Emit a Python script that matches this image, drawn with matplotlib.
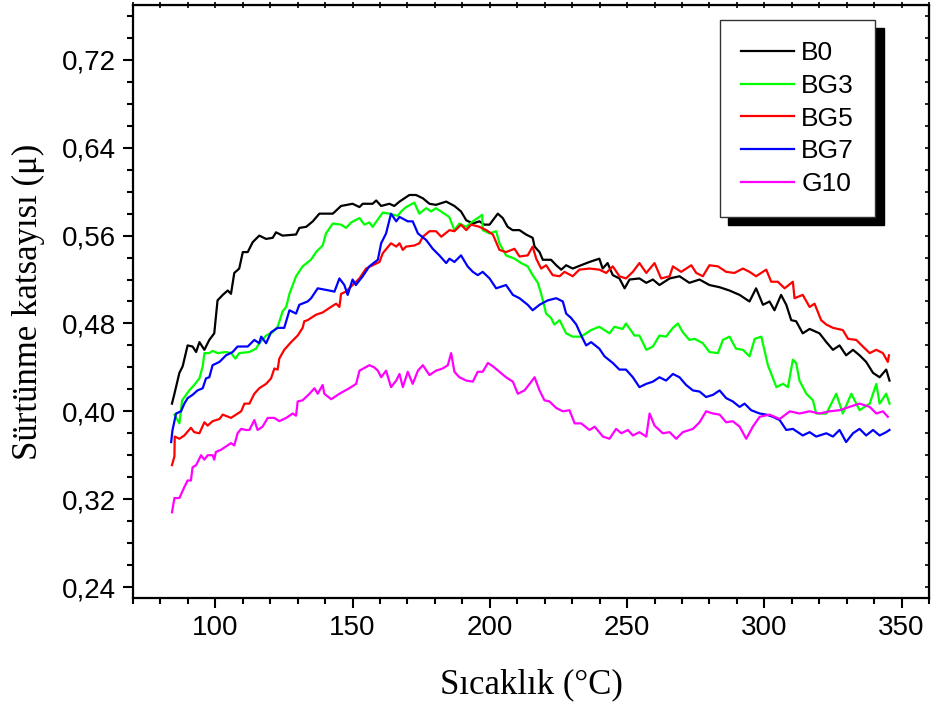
import matplotlib
matplotlib.use("Agg")
import matplotlib.pyplot as plt
import numpy as np
from matplotlib.ticker import MultipleLocator, FuncFormatter

# friction coefficient vs temperature
b0_x = [84.2, 85.1, 86.9, 88.1, 89.9, 91.7, 93.0, 94.2, 96.0, 97.8,
        99.6, 100.8, 102.7, 104.5, 105.7, 106.9, 108.7, 110.0, 111.8, 113.6,
        116.0, 118.5, 120.9, 122.1, 124.5, 129.4, 130.6, 133.1, 135.5, 137.9,
        142.8, 145.8, 150.0, 152.5, 153.7, 157.3, 158.6, 160.4, 163.4, 165.2,
        167.1, 170.7, 173.1, 175.6, 178.0, 180.4, 184.1, 187.1, 189.5, 191.4,
        193.8, 196.2, 198.0, 199.9, 202.9, 204.7, 206.5, 208.3, 210.8, 213.2,
        215.6, 216.3, 218.1, 219.3, 222.3, 224.2, 226.0, 227.8, 230.2, 233.2,
        236.3, 239.9, 241.1, 242.9, 244.8, 247.2, 249.1, 250.9, 254.5, 257.0,
        259.4, 261.8, 265.5, 269.1, 272.7, 276.4, 280.0, 283.7, 287.3, 291.0,
        294.6, 297.0, 299.5, 301.9, 303.7, 306.1, 308.0, 309.8, 311.6, 314.0,
        316.5, 320.1, 322.6, 325.0, 327.4, 329.8, 332.3, 334.7, 337.1, 339.6,
        342.0, 344.4, 345.6]
b0_y = [0.407, 0.416, 0.435, 0.441, 0.460, 0.459, 0.454, 0.463, 0.456, 0.465,
        0.471, 0.501, 0.506, 0.510, 0.507, 0.526, 0.530, 0.545, 0.545, 0.554,
        0.560, 0.557, 0.558, 0.563, 0.560, 0.561, 0.567, 0.568, 0.573, 0.580,
        0.580, 0.587, 0.589, 0.586, 0.589, 0.589, 0.592, 0.587, 0.589, 0.587,
        0.591, 0.597, 0.597, 0.594, 0.589, 0.588, 0.591, 0.587, 0.582, 0.574,
        0.571, 0.573, 0.570, 0.570, 0.580, 0.576, 0.568, 0.565, 0.565, 0.561,
        0.558, 0.550, 0.545, 0.538, 0.538, 0.533, 0.529, 0.533, 0.530, 0.533,
        0.536, 0.539, 0.530, 0.535, 0.524, 0.521, 0.512, 0.520, 0.521, 0.517,
        0.520, 0.515, 0.521, 0.523, 0.517, 0.520, 0.515, 0.513, 0.510, 0.506,
        0.500, 0.512, 0.497, 0.500, 0.492, 0.506, 0.497, 0.483, 0.482, 0.471,
        0.475, 0.471, 0.463, 0.456, 0.460, 0.451, 0.456, 0.451, 0.445, 0.435,
        0.431, 0.438, 0.428]

bg3_x = [85.1, 86.9, 87.9, 90.5, 92.3, 94.2, 95.4, 96.0, 97.8, 99.0,
         100.8, 103.9, 105.7, 107.3, 108.7, 112.4, 114.8, 116.0, 118.5, 120.9,
         122.7, 124.5, 125.8, 127.0, 129.4, 131.8, 134.8, 136.7, 139.1, 140.3,
         142.8, 145.8, 147.6, 149.5, 152.5, 154.3, 156.1, 157.3, 161.0, 163.4,
         166.4, 167.7, 169.5, 172.5, 174.3, 176.8, 178.6, 180.4, 183.4, 185.2,
         187.1, 188.9, 191.4, 193.8, 196.2, 197.2, 197.4, 199.9, 202.3, 203.5,
         205.9, 209.0, 211.4, 213.8, 215.6, 217.5, 218.7, 219.9, 220.5, 222.3,
         223.5, 225.4, 227.8, 230.2, 233.2, 236.9, 239.9, 243.6, 245.4, 248.4,
         249.6, 252.7, 254.5, 257.0, 259.4, 261.8, 264.2, 266.7, 268.5, 270.3,
         272.7, 274.6, 277.6, 280.0, 283.1, 284.9, 287.3, 289.7, 292.2, 294.6,
         296.5, 298.9, 301.3, 304.4, 306.8, 308.6, 310.4, 311.6, 312.8, 315.3,
         317.7, 318.9, 322.6, 326.2, 328.6, 331.7, 334.7, 338.4, 340.8, 342.0,
         344.4, 345.6]
bg3_y = [0.397, 0.389, 0.410, 0.419, 0.424, 0.430, 0.441, 0.453, 0.453, 0.455,
         0.453, 0.454, 0.453, 0.448, 0.453, 0.454, 0.457, 0.462, 0.469, 0.472,
         0.477, 0.491, 0.495, 0.507, 0.523, 0.532, 0.538, 0.545, 0.551, 0.562,
         0.571, 0.570, 0.567, 0.572, 0.576, 0.570, 0.572, 0.568, 0.581, 0.580,
         0.578, 0.582, 0.586, 0.590, 0.580, 0.585, 0.582, 0.585, 0.580, 0.577,
         0.565, 0.571, 0.568, 0.573, 0.577, 0.579, 0.565, 0.562, 0.564, 0.553,
         0.542, 0.539, 0.535, 0.532, 0.524, 0.517, 0.507, 0.495, 0.489, 0.485,
         0.479, 0.483, 0.471, 0.468, 0.468, 0.474, 0.477, 0.471, 0.477, 0.475,
         0.480, 0.469, 0.469, 0.456, 0.459, 0.469, 0.468, 0.476, 0.480, 0.472,
         0.465, 0.466, 0.462, 0.454, 0.453, 0.465, 0.468, 0.457, 0.456, 0.450,
         0.466, 0.468, 0.442, 0.422, 0.425, 0.422, 0.447, 0.444, 0.428, 0.416,
         0.410, 0.398, 0.398, 0.416, 0.398, 0.416, 0.401, 0.407, 0.425, 0.407,
         0.416, 0.407]

bg5_x = [84.2, 85.1, 85.2, 86.9, 88.7, 91.1, 92.3, 94.2, 96.0, 97.2,
         99.0, 101.5, 102.7, 105.7, 109.4, 110.6, 112.4, 114.2, 116.0, 118.5,
         120.3, 121.5, 122.7, 123.3, 125.1, 127.6, 130.0, 131.8, 132.4, 133.6,
         136.7, 139.1, 141.5, 144.0, 145.2, 145.8, 147.6, 150.0, 152.5, 154.9,
         157.3, 159.8, 161.0, 164.0, 165.9, 167.1, 168.3, 169.5, 172.5, 174.3,
         175.6, 178.0, 180.4, 182.3, 185.3, 187.1, 189.5, 191.4, 193.2, 196.2,
         198.7, 201.1, 203.5, 205.9, 209.0, 210.8, 213.8, 215.6, 216.9, 218.7,
         220.5, 222.9, 225.4, 227.2, 230.2, 232.6, 236.3, 239.9, 242.4, 244.8,
         247.2, 249.6, 252.1, 254.5, 257.0, 260.0, 262.4, 265.5, 266.7, 269.7,
         273.4, 275.2, 277.6, 280.0, 283.1, 286.1, 289.1, 292.2, 294.6, 297.0,
         300.7, 302.5, 304.9, 307.4, 310.4, 311.0, 314.0, 316.5, 318.3, 320.7,
         322.6, 325.0, 328.6, 330.5, 333.5, 335.9, 338.4, 340.8, 343.2, 345.0,
         345.4]
bg5_y = [0.351, 0.359, 0.377, 0.375, 0.378, 0.385, 0.381, 0.380, 0.390, 0.387,
         0.391, 0.393, 0.397, 0.394, 0.400, 0.407, 0.407, 0.416, 0.421, 0.425,
         0.430, 0.439, 0.438, 0.448, 0.456, 0.463, 0.469, 0.476, 0.482, 0.483,
         0.488, 0.490, 0.494, 0.498, 0.495, 0.507, 0.509, 0.515, 0.521, 0.530,
         0.533, 0.536, 0.544, 0.553, 0.550, 0.553, 0.547, 0.550, 0.551, 0.553,
         0.559, 0.564, 0.564, 0.559, 0.565, 0.564, 0.570, 0.565, 0.570, 0.568,
         0.565, 0.561, 0.547, 0.545, 0.548, 0.541, 0.542, 0.550, 0.539, 0.530,
         0.533, 0.524, 0.523, 0.527, 0.523, 0.529, 0.530, 0.529, 0.526, 0.532,
         0.523, 0.521, 0.527, 0.535, 0.526, 0.535, 0.521, 0.523, 0.532, 0.527,
         0.533, 0.526, 0.523, 0.533, 0.532, 0.527, 0.526, 0.530, 0.527, 0.523,
         0.529, 0.518, 0.518, 0.512, 0.518, 0.503, 0.506, 0.495, 0.498, 0.483,
         0.479, 0.476, 0.474, 0.466, 0.465, 0.459, 0.453, 0.456, 0.453, 0.445,
         0.451]

bg7_x = [83.9, 84.4, 85.7, 87.5, 88.7, 89.9, 91.7, 93.5, 95.4, 96.6,
         97.8, 99.0, 101.5, 103.9, 106.3, 108.1, 111.8, 114.2, 116.0, 116.7,
         118.5, 120.3, 122.7, 125.1, 127.0, 129.4, 130.6, 133.6, 134.9, 137.3,
         141.5, 143.4, 145.2, 147.0, 148.2, 150.0, 151.2, 153.7, 156.1, 159.2,
         160.4, 162.2, 164.0, 165.9, 167.1, 170.1, 171.9, 173.8, 176.8, 179.2,
         181.6, 184.1, 185.3, 187.1, 189.5, 191.9, 193.8, 195.6, 197.4, 199.9,
         202.3, 205.9, 208.4, 210.8, 213.8, 215.6, 218.1, 221.1, 224.2, 226.6,
         227.8, 229.6, 231.5, 233.3, 235.1, 236.9, 239.9, 241.8, 244.8, 247.2,
         249.6, 252.1, 254.5, 257.0, 259.4, 261.8, 264.2, 266.7, 269.1, 271.5,
         274.0, 276.4, 278.8, 281.3, 283.7, 286.1, 288.5, 291.0, 292.8, 295.2,
         298.3, 300.7, 303.1, 305.6, 308.0, 310.4, 314.0, 316.5, 318.9, 322.6,
         325.0, 327.4, 329.8, 332.3, 334.7, 337.1, 339.6, 342.0, 344.4, 345.6]
bg7_y = [0.372, 0.383, 0.398, 0.400, 0.407, 0.412, 0.415, 0.419, 0.421, 0.430,
         0.431, 0.442, 0.445, 0.451, 0.454, 0.459, 0.459, 0.465, 0.462, 0.468,
         0.462, 0.472, 0.476, 0.476, 0.492, 0.489, 0.497, 0.500, 0.503, 0.512,
         0.510, 0.509, 0.521, 0.515, 0.506, 0.520, 0.515, 0.523, 0.532, 0.538,
         0.553, 0.562, 0.580, 0.573, 0.577, 0.573, 0.573, 0.562, 0.556, 0.548,
         0.542, 0.535, 0.539, 0.536, 0.542, 0.532, 0.527, 0.524, 0.527, 0.521,
         0.512, 0.515, 0.506, 0.503, 0.497, 0.492, 0.497, 0.501, 0.503, 0.500,
         0.489, 0.485, 0.479, 0.469, 0.460, 0.463, 0.457, 0.450, 0.444, 0.438,
         0.438, 0.431, 0.422, 0.425, 0.427, 0.431, 0.428, 0.434, 0.431, 0.424,
         0.419, 0.418, 0.413, 0.415, 0.419, 0.412, 0.409, 0.404, 0.407, 0.401,
         0.398, 0.397, 0.395, 0.392, 0.383, 0.384, 0.378, 0.381, 0.377, 0.380,
         0.377, 0.383, 0.372, 0.380, 0.384, 0.378, 0.383, 0.378, 0.381, 0.383]

g10_x = [84.2, 85.1, 86.9, 88.7, 89.9, 91.1, 91.7, 93.0, 94.8, 96.0,
         97.2, 99.0, 99.6, 100.2, 102.1, 103.9, 105.7, 106.9, 108.1, 109.4,
         111.2, 112.4, 114.2, 115.4, 117.2, 119.1, 121.5, 123.3, 125.8, 128.2,
         129.4, 130.0, 131.8, 134.3, 136.1, 137.3, 139.1, 139.7, 142.2, 145.2,
         148.8, 151.3, 152.5, 156.1, 157.9, 159.2, 160.4, 162.2, 164.0, 165.9,
         167.1, 168.3, 170.1, 171.9, 173.8, 175.6, 178.0, 180.4, 182.8, 184.7,
         185.9, 187.1, 188.9, 191.4, 193.8, 195.6, 197.4, 199.3, 201.1, 203.5,
         205.9, 208.4, 210.2, 212.6, 214.5, 216.3, 218.1, 219.9, 221.7, 224.2,
         226.6, 229.0, 230.9, 233.3, 236.3, 238.2, 241.2, 243.6, 246.0, 247.9,
         250.3, 252.1, 254.5, 257.0, 258.2, 260.0, 263.0, 265.5, 267.9, 270.3,
         274.0, 276.4, 278.8, 281.3, 283.7, 286.1, 288.5, 291.0, 293.4, 295.8,
         298.3, 301.9, 305.6, 309.3, 312.8, 316.5, 320.1, 323.8, 327.4, 331.0,
         334.7, 338.4, 340.8, 343.2, 345.0]
g10_y = [0.308, 0.321, 0.321, 0.331, 0.337, 0.337, 0.349, 0.351, 0.360, 0.356,
         0.360, 0.360, 0.356, 0.363, 0.365, 0.368, 0.371, 0.369, 0.380, 0.384,
         0.383, 0.383, 0.392, 0.383, 0.386, 0.394, 0.394, 0.391, 0.394, 0.398,
         0.396, 0.409, 0.410, 0.416, 0.421, 0.416, 0.424, 0.416, 0.411, 0.416,
         0.421, 0.425, 0.437, 0.442, 0.440, 0.437, 0.431, 0.437, 0.422, 0.428,
         0.434, 0.422, 0.436, 0.425, 0.437, 0.442, 0.433, 0.437, 0.439, 0.442,
         0.453, 0.436, 0.431, 0.428, 0.427, 0.436, 0.436, 0.444, 0.441, 0.436,
         0.431, 0.427, 0.416, 0.419, 0.425, 0.431, 0.419, 0.410, 0.409, 0.403,
         0.400, 0.401, 0.389, 0.389, 0.383, 0.386, 0.377, 0.375, 0.384, 0.380,
         0.383, 0.378, 0.381, 0.377, 0.398, 0.387, 0.380, 0.381, 0.375, 0.381,
         0.384, 0.390, 0.400, 0.398, 0.397, 0.390, 0.391, 0.386, 0.375, 0.386,
         0.395, 0.397, 0.393, 0.400, 0.398, 0.400, 0.398, 0.400, 0.401, 0.404,
         0.407, 0.404, 0.398, 0.400, 0.395]

series = [
    ("B0", b0_x, b0_y, "#000000"),
    ("BG3", bg3_x, bg3_y, "#00ff00"),
    ("BG5", bg5_x, bg5_y, "#ff0000"),
    ("BG7", bg7_x, bg7_y, "#0000ff"),
    ("G10", g10_x, g10_y, "#ff00ff"),
]

fig = plt.figure(figsize=(9.32, 7.06), dpi=100)
ax = fig.add_axes([0.1427, 0.153, 0.8541, 0.8399])

for name, xs, ys, color in series:
    ax.plot(xs, ys, color=color, linewidth=1.6, label=name)

ax.set_xlim(70, 360)
ax.set_ylim(0.23, 0.77)

ax.xaxis.set_minor_locator(MultipleLocator(10))
ax.yaxis.set_minor_locator(MultipleLocator(0.02))
ax.set_yticks(np.arange(0.24, 0.73, 0.08))
ax.yaxis.set_major_formatter(FuncFormatter(lambda v, p: f"{v:.2f}".replace(".", ",")))
ax.set_xticks([100, 150, 200, 250, 300, 350])

for lab in ax.get_xticklabels() + ax.get_yticklabels():
    lab.set_fontfamily("Liberation Sans")
    lab.set_fontsize(20)

ax.tick_params(which="major", direction="out", length=7, width=1.5, pad=5)
ax.tick_params(which="minor", direction="out", length=4, width=1.5)
for s in ax.spines.values():
    s.set_linewidth(1.6)

# small ticks on top and right edges
top = ax.secondary_xaxis("top")
top.set_xticks(np.arange(70, 361, 10))
top.tick_params(direction="inout", length=5, width=1.2, labeltop=False)
right = ax.secondary_yaxis("right")
right.set_yticks(np.arange(0.24, 0.77, 0.02))
right.tick_params(direction="in", length=3, width=1.2, labelright=False)

ax.set_xlabel("Sıcaklık (°C)", family="Liberation Serif", fontsize=25, labelpad=20)
ax.set_ylabel("Sürtünme katsayısı (μ)", family="Liberation Serif", fontsize=25, labelpad=12)

leg = ax.legend(loc="upper left", bbox_to_anchor=(0.7374, 0.9747), borderaxespad=0,
                prop={"family": "Liberation Sans", "size": 19},
                fancybox=False, framealpha=1, edgecolor="#333333",
                handlelength=2.0, handletextpad=0.28, labelspacing=0.33,
                borderpad=0.8,
                shadow={"ox": 6, "oy": -6, "facecolor": "black",
                        "edgecolor": "black", "alpha": 1})
leg.get_frame().set_linewidth(1.0)

fig.savefig("out.png", dpi=100)
